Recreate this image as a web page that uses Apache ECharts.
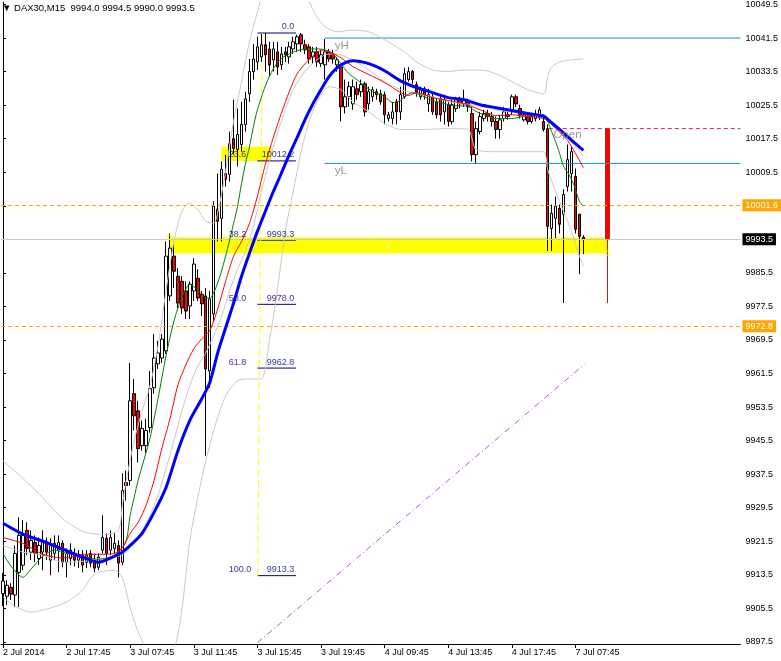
<!DOCTYPE html>
<html><head><meta charset="utf-8">
<script src="https://cdn.jsdelivr.net/npm/echarts@6/dist/echarts.min.js"></script>
<style>html,body{margin:0;padding:0;background:#fff}#c{width:781px;height:661px}</style>
</head><body><div id="c"></div>
<script>
// ---------- DATA ----------
const titleText = '\u25BC DAX30,M15  9994.0 9994.5 9990.0 9993.5';
const slotCount = 186;
const tickIndex = [0,16,32,48,64,80,96,112,128,144];
const tickText = ['2 Jul 2014','2 Jul 17:45','3 Jul 07:45','3 Jul 11:45','3 Jul 15:45','3 Jul 19:45','4 Jul 09:45','4 Jul 13:45','4 Jul 17:45','7 Jul 07:45'];
const priceTicks = [9897.5,9905.5,9913.5,9921.5,9929.5,9937.5,9945.5,9953.5,9961.5,9969.5,9977.5,9985.5,9993.5,10001.5,10009.5,10017.5,10025.5,10033.5,10041.5,10049.5];

const opens = [9909.0,9908.4,9910.5,9908.7,9914.1,9915.8,9924.1,9918.9,9921.2,9917.4,9918.9,9921.0,9917.0,9918.6,9919.4,9921.0,9916.5,9917.4,9918.6,9917.0,
9918.2,9916.5,9918.6,9917.0,9915.3,9919.4,9922.2,9919.4,9919.8,9920.5,9916.5,9935.5,9936.0,9956.7,9952.6,9944.3,9944.3,9948.6,9958.1,9963.8,
9965.2,9966.9,9980.0,9989.5,9984.7,9983.5,9981.2,9977.6,9981.2,9984.2,9980.4,9980.0,9962.1,9975.7,10000.7,9998.5,10009.2,10009.0,10017.5,10014.9,
10016.1,10020.9,10028.2,10033.5,10035.8,10037.0,10039.9,10038.9,10036.3,10038.2,10035.1,10038.2,10037.0,10038.9,10040.1,10042.3,10039.9,10039.4,10037.0,10038.2,
10035.4,10035.1,10038.2,10037.7,10035.1,10034.6,10025.1,10027.5,10025.8,10029.4,10028.7,10030.6,10025.8,10027.5,10028.7,10028.2,10028.0,10022.3,10022.3,10026.3,
10023.9,10027.5,10031.6,10033.5,10030.4,10027.5,10029.4,10025.8,10027.5,10026.3,10027.0,10023.9,10025.6,10021.6,10024.7,10026.8,10025.8,10026.3,10023.5,10013.7,
10019.2,10022.3,10023.5,10022.8,10021.6,10019.7,10022.3,10023.2,10023.9,10027.5,10024.7,10022.0,10022.8,10021.6,10022.3,10022.8,10021.6,10019.9,9996.1,9998.5,
10000.9,9999.5,10006.1,10009.2,10008.5,9999.5,9994.0];
const highs = [9914.0,9912.2,9911.5,9920.5,9927.2,9926.5,9926.0,9924.1,9922.9,9922.4,9924.1,9922.4,9922.2,9922.9,9922.9,9921.7,9919.8,9921.0,9919.8,9919.4,
9919.4,9919.4,9919.4,9918.6,9918.6,9927.7,9923.4,9924.1,9923.4,9921.7,9937.7,9938.4,9964.0,9960.2,9955.0,9950.3,9950.7,9962.1,9970.9,9969.3,
9970.9,9993.0,9994.9,9992.3,9986.6,9984.7,9983.5,9983.5,9989.0,9986.4,9981.2,9981.9,9981.2,10002.6,10009.2,10012.1,10013.7,10019.2,10026.8,10024.7,
10026.3,10028.7,10036.5,10040.1,10041.8,10042.5,10042.7,10040.6,10040.6,10040.6,10039.4,10039.4,10040.6,10041.8,10042.3,10042.7,10041.1,10040.1,10039.4,10039.4,
10038.7,10041.3,10038.9,10038.7,10037.0,10035.1,10031.6,10031.1,10031.6,10031.1,10031.6,10031.1,10029.9,10029.9,10029.4,10029.2,10028.7,10023.9,10026.3,10027.0,
10029.9,10034.4,10034.6,10033.9,10031.1,10029.9,10029.9,10029.4,10028.2,10027.0,10028.0,10028.0,10026.3,10026.8,10027.5,10027.5,10029.2,10027.0,10025.1,10021.6,
10023.9,10024.4,10024.4,10023.9,10022.8,10023.2,10025.1,10024.4,10028.0,10028.0,10025.6,10023.9,10023.5,10023.5,10024.4,10025.1,10022.8,10020.9,10001.8,10003.7,
10001.8,10005.4,10016.1,10015.6,10010.4,9999.5,9994.5];
const lows = [9906.0,9906.3,9907.5,9905.8,9905.8,9914.6,9918.2,9917.0,9916.5,9915.8,9914.6,9917.0,9913.4,9917.0,9914.1,9915.3,9912.9,9915.8,9915.5,9915.1,
9914.1,9915.1,9915.3,9914.1,9914.6,9918.6,9915.8,9918.2,9918.6,9912.9,9915.8,9931.2,9934.8,9947.9,9940.3,9943.1,9942.6,9947.4,9956.7,9962.6,
9964.0,9966.2,9978.8,9981.9,9977.1,9975.7,9974.5,9974.5,9978.8,9978.8,9975.2,9941.9,9958.1,9974.0,9993.0,9993.0,10006.1,10007.3,10013.7,10010.9,
10014.4,10019.2,10026.3,10031.6,10033.9,10035.8,10033.5,10032.3,10033.5,10032.7,10033.9,10035.8,10035.4,10037.7,10038.2,10038.2,10037.7,10035.4,10035.4,10034.6,
10034.6,10031.6,10035.8,10035.4,10033.5,10021.6,10023.5,10025.1,10024.4,10026.8,10027.5,10022.8,10024.4,10026.3,10026.8,10025.6,10020.9,10021.6,10020.9,10020.9,
10022.0,10027.0,10031.1,10030.6,10027.5,10026.8,10026.8,10023.9,10023.2,10022.3,10021.6,10020.9,10020.4,10020.9,10023.9,10024.7,10025.1,10023.9,10012.1,10011.6,
10018.5,10021.6,10021.6,10020.4,10017.5,10017.5,10021.6,10022.0,10023.2,10025.1,10022.3,10021.6,10020.9,10021.1,10021.6,10022.0,10019.2,9990.7,9990.7,9993.8,
9994.9,9978.3,10004.9,10004.9,9994.9,9985.2,9990.0];
const closes = [9912.0,9911.0,9908.9,9918.6,9922.9,9922.9,9919.8,9921.7,9918.6,9920.5,9921.7,9918.9,9920.5,9921.0,9921.2,9916.5,9918.6,9919.4,9917.0,9918.2,
9915.8,9918.2,9916.3,9915.1,9917.7,9922.4,9918.6,9922.4,9921.0,9916.3,9933.6,9934.8,9955.0,9951.4,9943.6,9948.4,9947.9,9957.9,9965.2,9966.4,
9969.7,9989.5,9991.4,9985.9,9978.3,9977.1,9976.4,9982.8,9987.6,9979.5,9978.1,9962.6,9979.3,10001.4,9997.8,10010.2,10007.8,10016.3,10015.2,10018.5,
10020.9,10027.0,10033.5,10036.5,10039.4,10039.9,10037.5,10035.1,10038.9,10034.6,10037.7,10037.5,10039.4,10040.6,10041.8,10040.1,10038.7,10036.5,10038.2,10035.8,
10037.5,10038.2,10036.5,10036.5,10036.3,10025.1,10027.5,10029.9,10029.9,10028.0,10030.4,10023.9,10028.7,10029.2,10028.0,10026.3,10023.2,10023.2,10023.9,10023.9,
10028.0,10033.0,10033.5,10031.6,10028.7,10029.2,10028.0,10028.0,10023.9,10023.2,10023.2,10026.8,10021.6,10025.6,10026.8,10025.8,10026.8,10025.1,10013.7,10019.9,
10022.8,10023.5,10022.8,10021.6,10019.7,10022.0,10023.9,10022.8,10027.5,10025.8,10023.2,10023.2,10021.6,10022.8,10023.2,10024.4,10019.7,9996.6,9999.7,10001.4,
9997.1,10004.2,10012.5,10014.4,9995.9,9994.2,9993.5];

// daily bar indicator to the right of price
const dayBarIndex = 152;
const dayBarOHLC = [10019.9, 9993.5, 9978.3, 10019.9]; // open, close, low, high

// moving averages (read at sampled bars)
const greenIdx = [0,2,5,7,10,13,16,19,22,24,27,29,31,32,34,37,39,41,43,45,47,49,51,52,54,56,58,59,60,61,62,63,64,66,68,70,72,74,76,79,81,83,85,87,89,91,93,96,98,100,101,103,106,108,111,113,117,119,121,124,128,131,134,136,137,138,139,140,141,142,143,144,145,146];
const greenVal = [9918.6,9915.6,9912.9,9914.8,9917.9,9919.4,9918.6,9918.2,9917.5,9917.2,9917.7,9918.9,9921.7,9927.7,9936.0,9946.2,9955.5,9965.7,9974.0,9979.7,9982.8,9981.4,9979.5,9979.5,9983.1,9989.5,9997.3,10001.4,10006.8,10011.6,10015.6,10020.4,10024.4,10030.1,10034.2,10036.6,10037.7,10038.5,10038.9,10038.9,10038.7,10037.7,10035.4,10033.0,10031.6,10030.1,10028.7,10027.5,10026.1,10026.6,10027.5,10028.5,10027.5,10026.6,10025.9,10025.4,10025.2,10024.0,10023.2,10022.3,10022.3,10022.8,10023.2,10023.2,10021.6,10019.2,10016.8,10014.0,10010.9,10009.5,10007.8,10005.4,10002.6,10001.4];
const redIdx = [0,5,8,10,13,15,18,20,25,28,30,32,34,36,38,40,42,44,46,48,50,52,54,56,58,60,62,64,66,68,70,72,74,76,78,80,82,85,88,92,96,100,102,104,108,112,116,120,124,128,132,136,138,140,142,144,146];
const redVal = [9922.4,9921.0,9919.4,9918.4,9917.7,9917.5,9917.9,9918.4,9918.4,9918.6,9919.8,9923.4,9926.0,9930.1,9936.0,9943.8,9950.7,9958.8,9963.6,9967.4,9969.8,9971.7,9976.9,9983.5,9989.5,9993.0,9997.3,10003.8,10011.4,10017.8,10023.5,10028.7,10033.0,10035.4,10037.3,10038.5,10038.2,10036.8,10034.7,10032.8,10030.9,10028.5,10027.8,10028.5,10027.3,10026.6,10025.9,10024.4,10023.0,10023.2,10022.8,10022.3,10020.9,10019.0,10017.1,10014.0,10010.6];
const blueIdx = [0,5,10,15,20,24,27,30,32,35,38,41,44,47,50,52,54,56,58,60,62,64,66,68,70,72,74,76,78,80,82,84,86,88,92,96,100,104,108,112,116,120,124,128,132,136,138,140,142,144,146];
const blueVal = [9925.8,9923.2,9921.5,9919.6,9917.7,9916.5,9917.5,9918.9,9920.5,9923.4,9928.4,9934.3,9943.1,9950.3,9955.5,9959.3,9966.4,9972.4,9978.3,9984.7,9990.2,9995.4,10000.2,10004.9,10009.2,10013.7,10017.8,10022.1,10025.9,10029.2,10032.3,10034.4,10035.6,10036.1,10035.4,10033.7,10031.3,10029.7,10028.5,10027.3,10026.8,10025.6,10024.9,10024.2,10023.5,10022.8,10021.3,10019.7,10018.0,10016.3,10014.7];

// Bollinger bands (read at sampled bars)
const bbUpIdx = [0,5,10,15,20,25,29,30,31,33,35,37,39,41,43,45,47,49,51,53,54,56,58,60,62,64,66,70,74,77,79,81,84,88,92,96,99,101,104,108,112,116,120,124,128,132,136,137,138,140,143,146];
const bbUpVal = [9940.7,9936.5,9931.9,9926.9,9923.9,9923.1,9924.1,9930.0,9936.0,9945.5,9952.6,9958.6,9968.1,9981.2,9993.0,10000.2,10002.1,10000.6,9997.8,9997.3,9999.7,10009.7,10021.6,10031.1,10040.6,10047.7,10053.7,10057.2,10054.9,10050.1,10046.5,10044.2,10043.0,10043.4,10043.0,10041.1,10039.4,10038.2,10035.8,10033.9,10033.5,10033.9,10033.9,10033.0,10031.1,10029.2,10028.2,10032.3,10034.6,10035.8,10036.3,10036.5];
const bbMidIdx = [0,5,10,15,20,25,29,31,33,35,37,39,41,43,45,47,49,51,53,55,57,59,61,63,65,67,69,71,73,75,77,79,81,83,85,88,92,96,100,104,108,112,116,120,124,128,132,136,138,140,142,144,146];
const bbMidVal = [9920.5,9918.9,9918.2,9916.5,9916.7,9917.4,9917.9,9918.9,9921.2,9924.1,9927.7,9932.4,9938.8,9945.5,9952.6,9958.6,9963.3,9966.4,9970.5,9975.2,9981.2,9986.4,9990.7,9996.6,10004.9,10012.1,10018.7,10024.4,10029.2,10032.3,10034.6,10036.3,10037.5,10037.7,10037.5,10036.3,10033.9,10031.1,10029.2,10028.2,10027.5,10026.3,10025.8,10025.4,10024.4,10023.9,10023.5,10023.2,10021.6,10019.9,10018.0,10015.6,10013.3];
const bbLoIdx = [0,3,7,12,16,20,22,24,28,30,32,34,36,40,43,45,47,50,53,56,59,62,65,67,69,71,73,75,77,79,82,85,88,92,96,100,106,112,117,119,124,130,136,137,139,141,143,145,146];
const bbLoVal = [9908.2,9906.0,9904.6,9905.6,9907.0,9909.8,9912.7,9914.1,9914.6,9912.9,9905.6,9899.9,9896.1,9893.2,9895.6,9905.1,9921.7,9936.5,9947.9,9956.2,9959.8,9960.2,9960.2,9969.3,9981.2,9995.4,10004.9,10014.4,10021.6,10026.3,10029.9,10029.2,10026.3,10023.9,10021.1,10019.7,10019.7,10019.9,10019.7,10014.9,10014.4,10014.4,10014.4,10010.2,10004.9,10000.2,9995.4,9989.5,9987.1];

// Fibonacci retracement
const fibPct = ['0.0','23.6','38.2','50.0','61.8','100.0'];
const fibPrice = [10042.7,10012.2,9993.3,9978.0,9962.8,9913.3];
const fibSpan = [64, 73.7];           // bar range of the level lines
const fibTrend = [[64.07, 9913.3],[65.2, 10042.7]];

// horizontal levels
const yHigh = 10041.5, yLow = 10011.6, dayOpen = 10019.9;
const levelsStart = 80.9, openStart = 137.3, leftEdge = -0.5, rightEdge = 185.5;
const orangeLevels = [10001.6, 9972.8];
const bidPrice = 9993.5;

// zones
const zoneBig = [[41.7, 9994.0],[152.1, 9990.2]];
const zoneFib = [[54.9, 10015.6],[67.4, 10012.2]];

// trend line (purple)
const trendLine = [[64, 9897.3],[146.25, 9963.7]];

// ---------- CHART ----------
const FONT = 'Liberation Sans, Arial, sans-serif';
const chart = echarts.init(document.getElementById('c'), null, {renderer: 'canvas'});
const categories = Array.from({length: slotCount}, (_, i) => String(i));
const candles = opens.map((o, i) => [o, closes[i], lows[i], highs[i]]);
const dayData = categories.map((_, i) => i === dayBarIndex ? dayBarOHLC : '-');
const pairs = (idx, val) => idx.map((x, k) => [x, val[k]]);
const isTick = (i) => tickIndex.indexOf(i) >= 0;

function textPoint(x, y, text, opts) {
  return {
    type: 'scatter', xAxisIndex: 1, yAxisIndex: 0, z: 8, silent: true,
    symbolSize: 1, itemStyle: {color: 'rgba(0,0,0,0)'},
    data: [[x, y]],
    label: Object.assign({show: true, formatter: text, fontFamily: FONT, fontSize: 9, color: '#000080'}, opts)
  };
}
function segLine(data, color, width, type, z) {
  return {type: 'line', xAxisIndex: 1, yAxisIndex: 0, data: data, showSymbol: false, symbol: 'none',
    silent: true, z: z || 4, lineStyle: {color: color, width: width, type: type || 'solid'}};
}
function axisBox(value, bg, lineColor, dash) {
  return {yAxis: value, lineStyle: {color: lineColor, width: 1, type: dash},
    label: {show: true, position: 'end', distance: 2, formatter: value.toFixed(1), color: '#fff',
      backgroundColor: bg, padding: [2, 3, 1, 3], fontFamily: FONT, fontSize: 9}};
}

const series = [];
// zones (behind)
series.push({
  type: 'line', xAxisIndex: 1, yAxisIndex: 0, data: [], z: 1, silent: true,
  markArea: {silent: true, itemStyle: {color: '#ffff00'}, data: [
    [{coord: zoneBig[0]}, {coord: zoneBig[1]}],
    [{coord: zoneFib[0]}, {coord: zoneFib[1]}]
  ]}
});
// full-width horizontal lines with axis boxes
series.push({
  type: 'line', xAxisIndex: 1, yAxisIndex: 0, data: [], z: 2, silent: true,
  markLine: {silent: true, symbol: 'none', animation: false,
    data: [axisBox(bidPrice, '#000000', '#c8c8d2', 'solid'),
           axisBox(orangeLevels[0], '#ffa500', '#ffa500', [4, 3]),
           axisBox(orangeLevels[1], '#ffa500', '#ffa500', [4, 3])]}
});
// partial level lines
series.push(segLine([[levelsStart, yHigh], [rightEdge, yHigh]], '#0e9ab4', 1));
series.push(segLine([[levelsStart, yLow], [rightEdge, yLow]], '#0e9ab4', 1));
series.push(segLine([[openStart, dayOpen], [rightEdge, dayOpen]], '#c81a78', 1, [4, 3]));
// fib lines
fibPrice.forEach(p => series.push(segLine([[fibSpan[0], p], [fibSpan[1], p]], '#000080', 1, 'solid', 3)));
series.push(segLine(fibTrend, '#ffff00', 1, [7, 4], 3));
// purple trend line
series.push(segLine(trendLine, '#b94ee6', 1, [6, 3, 1, 3], 3));

// candles
series.push({
  type: 'candlestick', xAxisIndex: 0, yAxisIndex: 0, data: candles, z: 3, barWidth: 3, silent: true,
  itemStyle: {color: '#ffffff', color0: '#ff0000', borderColor: '#000000', borderColor0: '#000000', borderWidth: 1}
});
series.push({
  type: 'candlestick', xAxisIndex: 0, yAxisIndex: 0, data: dayData, z: 3, barWidth: 5, silent: true,
  itemStyle: {color: '#ff0000', color0: '#ff0000', borderColor: '#d01818', borderColor0: '#d01818', borderWidth: 1}
});

// bands and MAs
const bandStart = series.length;
series.push(segLine(pairs(bbUpIdx, bbUpVal), '#c8c8c8', 1, 'solid', 4));
series.push(segLine(pairs(bbMidIdx, bbMidVal), '#c8c8c8', 1, 'solid', 4));
series.push(segLine(pairs(bbLoIdx, bbLoVal), '#c8c8c8', 1, 'solid', 4));
series.push(segLine(pairs(greenIdx, greenVal), '#008000', 1, 'solid', 5));
series.push(segLine(pairs(redIdx, redVal), '#ff0000', 1, 'solid', 5));
series.push(segLine(pairs(blueIdx, blueVal), '#0000ff', 3, 'solid', 6));
series.slice(bandStart).forEach(s => { s.smooth = 0.25; });

// zone handles
series.push({type: 'scatter', xAxisIndex: 1, yAxisIndex: 0, z: 7, silent: true, symbol: 'rect', symbolSize: 4,
  itemStyle: {color: 'rgba(0,0,0,0)', borderColor: '#ffff00', borderWidth: 1},
  data: [[zoneBig[0][0], zoneBig[0][1]], [zoneBig[1][0], zoneBig[1][1]]]});
series.push({type: 'scatter', xAxisIndex: 1, yAxisIndex: 0, z: 7, silent: true, symbol: 'rect', symbolSize: 3,
  itemStyle: {color: '#ffffff'}, data: [[96.9, 9992.1]]});

// fib texts
fibPct.forEach((t, k) => {
  if (k === 0) {
    series.push(textPoint(73.4, fibPrice[k], t, {position: [0, -1], align: 'right', verticalAlign: 'bottom'}));
  } else {
    series.push(textPoint(56.9, fibPrice[k], t, {position: [0, -1], align: 'left', verticalAlign: 'bottom'}));
    series.push(textPoint(73.4, fibPrice[k], fibPrice[k].toFixed(1), {position: [0, -1], align: 'right', verticalAlign: 'bottom'}));
  }
});
// level names
series.push(textPoint(83.6, yHigh, 'yH', {position: [0, 2], align: 'left', verticalAlign: 'top', color: '#808080', fontSize: 11.5}));
series.push(textPoint(83.6, yLow, 'yL', {position: [0, 2], align: 'left', verticalAlign: 'top', color: '#808080', fontSize: 11.5}));
series.push(textPoint(138.6, dayOpen, 'Open', {position: [0, 1], align: 'left', verticalAlign: 'top', color: '#808080', fontSize: 11.5}));

chart.setOption({
  animation: false,
  backgroundColor: '#ffffff',
  grid: {left: -4, right: 40, top: 0, bottom: 17, containLabel: false},
  xAxis: [{
    type: 'category', data: categories, boundaryGap: true,
    axisLine: {show: true, lineStyle: {color: '#000', width: 1}},
    axisTick: {show: true, alignWithLabel: true, interval: (i) => isTick(i), length: 4, lineStyle: {color: '#000'}},
    axisLabel: {show: true, interval: (i) => isTick(i), formatter: (v, i) => tickText[tickIndex.indexOf(i)] || '',
      align: 'left', margin: 4, fontFamily: FONT, fontSize: 9, color: '#000'},
    splitLine: {show: false}
  }, {
    type: 'value', min: -0.5, max: slotCount - 0.5, show: false
  }],
  yAxis: [{
    type: 'value', position: 'right', min: 9897.0, max: 10050.1, scale: true,
    axisLine: {show: true, lineStyle: {color: '#000', width: 1}},
    axisTick: {show: true, inside: false, length: 3, customValues: priceTicks, lineStyle: {color: '#000'}},
    axisLabel: {show: true, customValues: priceTicks, formatter: (v) => Number(v).toFixed(1), margin: 5,
      fontFamily: FONT, fontSize: 9, color: '#000'},
    splitLine: {show: false}
  }],
  graphic: [{type: 'text', left: 2, top: 3, z: 100,
    style: {text: titleText, fontFamily: FONT, fontSize: 9.5, fill: '#000'}}],
  series: series
});
</script>
</body></html>
